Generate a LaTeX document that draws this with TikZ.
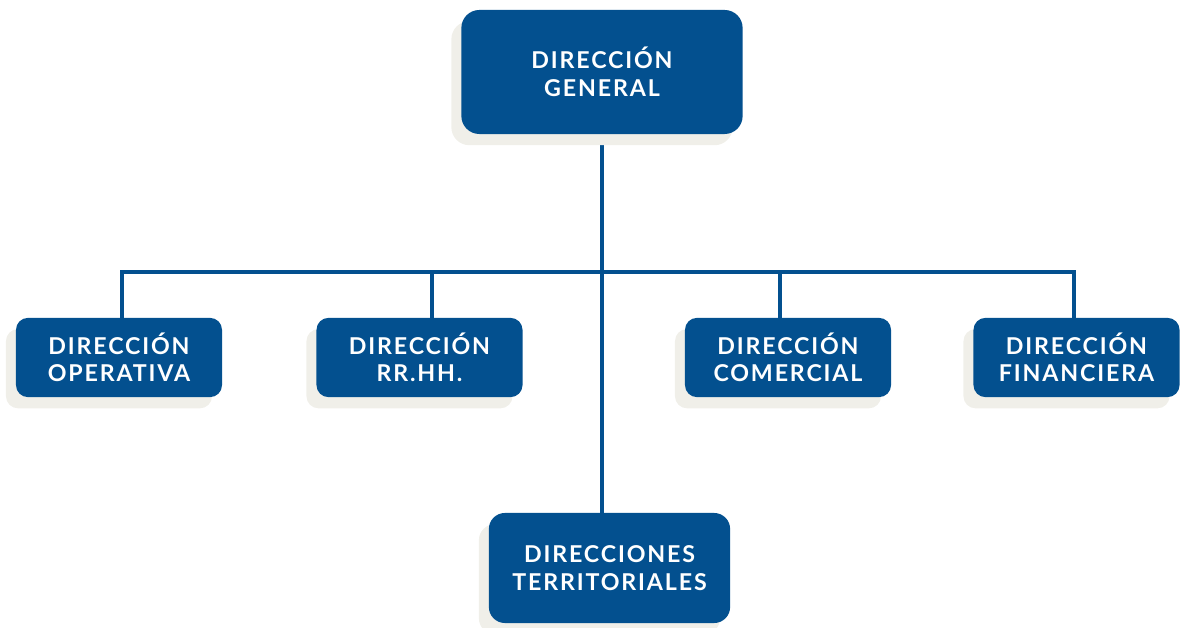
\documentclass[tikz,border=0pt]{standalone}
\usepackage{fontspec}
\newfontfamily\boxfont[LetterSpace=8]{Lato}
\usepackage{tikz}
\usetikzlibrary{positioning,calc,shadows}
\pgfdeclarelayer{bg}
\pgfsetlayers{bg,main}
\definecolor{dirblue}{HTML}{03508F}
\definecolor{shade}{HTML}{F0EFE9}

\begin{document}
\begin{tikzpicture}[x=0.025cm, y=-0.025cm,
    dir/.style={fill=dirblue, text=white, align=center, rounded corners=0.3cm,
        font=\boxfont\bfseries\fontsize{16.5}{19.5}\selectfont,
        drop shadow={shadow xshift=-0.25cm, shadow yshift=-0.28cm, fill=shade, opacity=1},
        minimum width=5.15cm, minimum height=1.98cm, inner sep=0pt},
    link/.style={draw=dirblue, line width=2.6pt}]
    \useasboundingbox (0,0) rectangle (1184,628);

    \node [dir, minimum width=7.03cm, minimum height=3.1cm, rounded corners=0.45cm] (dg) at (602,72) {DIRECCIÓN\\GENERAL};
    \node [dir] (op) at (119,357.5) {DIRECCIÓN\\OPERATIVA};
    \node [dir] (rh) at (419.5,357.5) {DIRECCIÓN\\RR.HH.};
    \node [dir] (co) at (788,357.5) {DIRECCIÓN\\COMERCIAL};
    \node [dir] (fi) at (1076.5,357.5) {DIRECCIÓN\\FINANCIERA};
    \node [dir, minimum width=6.03cm, minimum height=2.75cm, rounded corners=0.4cm] (te) at (609.5,568) {DIRECCIONES\\TERRITORIALES};

    \coordinate (bar) at (603,272);
    \begin{pgfonlayer}{bg}    % connectors behind the boxes
        \draw [link] (dg.south) -- (dg.south |- te.north);
        \draw [link] ([xshift=0.08cm]op.north) |- (bar) -| ([xshift=-0.06cm]fi.north);
        \draw [link] ([xshift=0.31cm]rh.north) -- ([xshift=0.31cm]rh.north |- bar);
        \draw [link] ([xshift=-0.2cm]co.north) -- ([xshift=-0.2cm]co.north |- bar);
    \end{pgfonlayer}
\end{tikzpicture}
\end{document}
